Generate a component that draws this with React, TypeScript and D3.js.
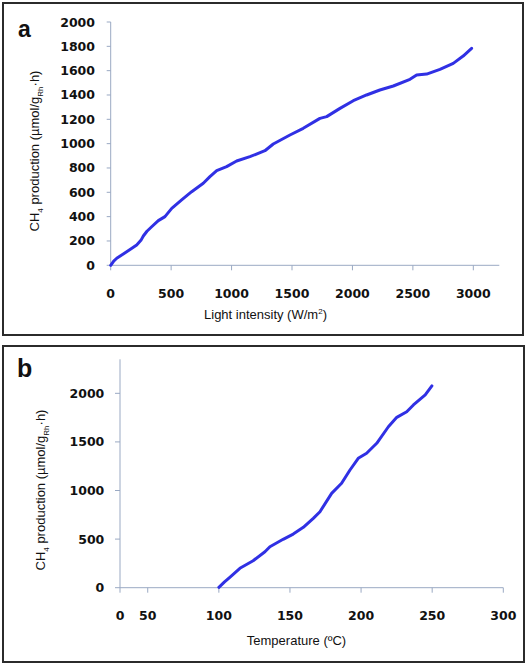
import React from "react";
import * as d3 from "d3";

// Panel a: CH4 production vs light intensity
const lightX = [0, 25, 50, 104, 160, 215, 250, 270, 300, 339, 394, 449, 505, 587, 670, 766, 821, 877, 959, 1042, 1152, 1276, 1345, 1483, 1593, 1731, 1787, 1897, 2007, 2117, 2227, 2338, 2476, 2531, 2614, 2724, 2834, 2916, 2986];
const lightY = [0, 35, 58, 93, 130, 167, 205, 241, 280, 317, 367, 400, 468, 537, 605, 674, 729, 778, 811, 857, 893, 942, 997, 1071, 1126, 1208, 1222, 1290, 1353, 1400, 1441, 1474, 1529, 1564, 1572, 1611, 1660, 1720, 1784];
const xTicksA = [0, 500, 1000, 1500, 2000, 2500, 3000];
const yTicksA = [0, 200, 400, 600, 800, 1000, 1200, 1400, 1600, 1800, 2000];

// Panel b: CH4 production vs temperature
const tempX = [100, 104, 107.7, 114.8, 124.1, 132.4, 135.9, 145.2, 152.3, 159.4, 166.4, 171.1, 179.3, 186.3, 192.2, 198, 203.9, 211, 219.2, 225.1, 232.1, 236.8, 245.1, 249.8];
const tempY = [4, 60, 107, 200, 278, 370, 422, 498, 552, 621, 713, 782, 971, 1074, 1211, 1331, 1383, 1486, 1656, 1753, 1811, 1880, 1983, 2076];
const xTicksB = [50, 100, 150, 200, 250, 300];
const xOriginLabelB = "0";
const yTicksB = [0, 500, 1000, 1500, 2000];

const LINE = "#3030e4";
const AXIS = "#9aa9c3";
const TICKFONT = "DejaVu Sans, sans-serif";
const LABELFONT = "Liberation Sans, Arial, sans-serif";

export default function App() {
  // panel a scales
  const xa = d3.scaleLinear().domain([0, 3215]).range([110.7, 499.3]);
  const ya = d3.scaleLinear().domain([0, 2000]).range([265.3, 22]);
  // panel b scales
  const xb = d3.scaleLinear().domain([30.5, 300]).range([120, 503.3]);
  const yb = d3.scaleLinear().domain([0, 2350]).range([587.7, 359.3]);

  const ptsA = lightX.map((x, i) => [x, lightY[i]] as [number, number]);
  const ptsB = tempX.map((x, i) => [x, tempY[i]] as [number, number]);
  const lineA = d3.line<[number, number]>().x(d => xa(d[0])).y(d => ya(d[1])).curve(d3.curveLinear)(ptsA) || "";
  const lineB = d3.line<[number, number]>().x(d => xb(d[0])).y(d => yb(d[1])).curve(d3.curveLinear)(ptsB) || "";

  const tickStyle = { fontFamily: TICKFONT, fontWeight: 700, fontSize: 12.5, fill: "#111" } as const;
  const labStyle = { fontFamily: LABELFONT, fontSize: 13, fill: "#111" } as const;

  return (
    <svg width={529} height={666} style={{ position: "fixed", left: 0, top: 0, background: "#fff" }}>
      <rect x={0} y={0} width={529} height={666} fill="#fff" />
      {/* Panel a */}
      <rect x={3} y={3} width={520} height={332} fill="none" stroke="#2b2b2b" strokeWidth={2} />
      <text x={18} y={37} style={{ fontFamily: LABELFONT, fontWeight: 700, fontSize: 23, fill: "#111" }}>a</text>
      <line x1={xa(0)} x2={xa(0)} y1={ya(2000)} y2={ya(0)} stroke={AXIS} strokeWidth={1} />
      <line x1={xa(0)} x2={xa.range()[1]} y1={ya(0)} y2={ya(0)} stroke={AXIS} strokeWidth={1} />
      {yTicksA.map(t => (
        <g key={"ya" + t}>
          <line x1={xa(0) - 4} x2={xa(0)} y1={ya(t)} y2={ya(t)} stroke={AXIS} />
          <text x={95} y={ya(t) + 4.5} textAnchor="end" style={tickStyle}>{t}</text>
        </g>
      ))}
      {xTicksA.map(t => (
        <g key={"xa" + t}>
          <line x1={xa(t)} x2={xa(t)} y1={ya(0)} y2={ya(0) + 5} stroke={AXIS} />
          <text x={xa(t)} y={297.5} textAnchor="middle" style={tickStyle}>{t}</text>
        </g>
      ))}
      <path d={lineA} fill="none" stroke={LINE} strokeWidth={3} strokeLinejoin="round" strokeLinecap="round" />
      <text x={265.5} y={319} textAnchor="middle" style={labStyle}>
        Light intensity (W/m<tspan dy={-5} fontSize={8}>2</tspan><tspan dy={5}>)</tspan>
      </text>
      <text transform={`translate(39.3,151) rotate(-90)`} textAnchor="middle" style={labStyle}>
        CH<tspan dy={4} fontSize={8}>4</tspan><tspan dy={-4}> production (µmol/g</tspan><tspan dy={4} fontSize={8}>Rh</tspan><tspan dy={-4}>·h)</tspan>
      </text>

      {/* Panel b */}
      <rect x={3} y={346} width={521} height={316} fill="none" stroke="#2b2b2b" strokeWidth={2} />
      <text x={17} y={377} style={{ fontFamily: LABELFONT, fontWeight: 700, fontSize: 25, fill: "#111" }}>b</text>
      <line x1={xb(30.5)} x2={xb(30.5)} y1={yb(2350)} y2={yb(0) + 5} stroke={AXIS} strokeWidth={1} />
      <line x1={xb(30.5)} x2={xb(300)} y1={yb(0)} y2={yb(0)} stroke={AXIS} strokeWidth={1} />
      {yTicksB.map(t => (
        <g key={"yb" + t}>
          <line x1={xb(30.5) - 5} x2={xb(30.5)} y1={yb(t)} y2={yb(t)} stroke={AXIS} />
          <text x={104.3} y={yb(t) + 4.5} textAnchor="end" style={tickStyle}>{t}</text>
        </g>
      ))}
      <text x={xb(30.5)} y={620} textAnchor="middle" style={tickStyle}>{xOriginLabelB}</text>
      {xTicksB.map(t => (
        <g key={"xb" + t}>
          <line x1={xb(t)} x2={xb(t)} y1={yb(0)} y2={yb(0) + 5} stroke={AXIS} />
          <text x={xb(t)} y={620} textAnchor="middle" style={tickStyle}>{t}</text>
        </g>
      ))}
      <path d={lineB} fill="none" stroke={LINE} strokeWidth={3} strokeLinejoin="round" strokeLinecap="round" />
      <text x={296.5} y={644.5} textAnchor="middle" style={labStyle}>Temperature (ºC)</text>
      <text transform={`translate(45,490) rotate(-90)`} textAnchor="middle" style={labStyle}>
        CH<tspan dy={4} fontSize={8}>4</tspan><tspan dy={-4}> production (µmol/g</tspan><tspan dy={4} fontSize={8}>Rh</tspan><tspan dy={-4}>·h)</tspan>
      </text>
    </svg>
  );
}
